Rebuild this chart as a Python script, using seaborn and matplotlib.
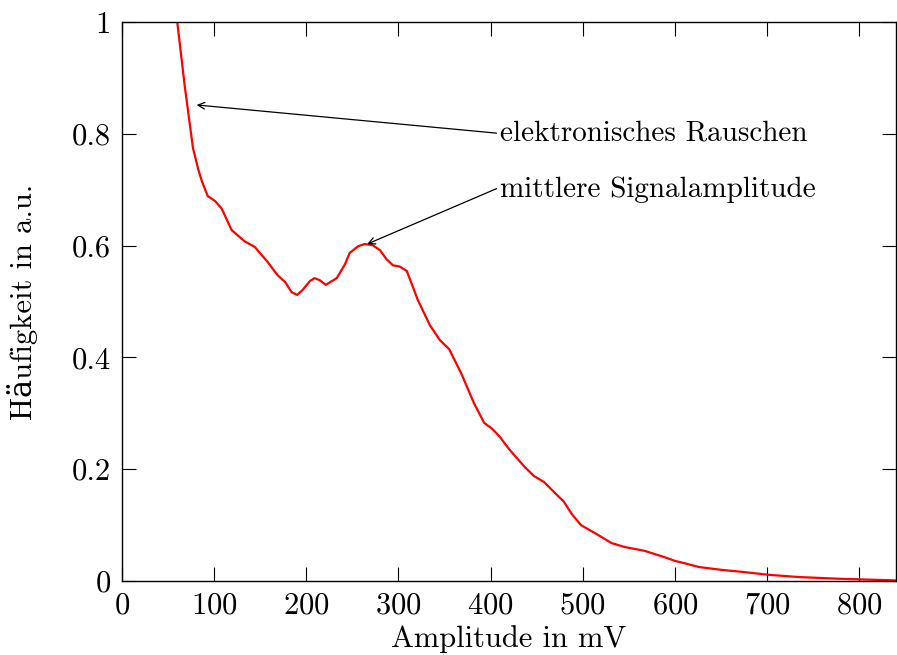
import numpy as np
import pandas as pd
import matplotlib
matplotlib.use("Agg")
import matplotlib.pyplot as plt
import seaborn as sns

# Amplitude spectrum
amplitude = [55, 60, 68, 77, 83, 87, 93, 101, 108, 119, 133, 144, 158, 169, 177, 184,
             190, 196, 204, 209, 215, 221, 233, 242, 247, 256, 263, 272, 280, 287,
             294, 301, 309, 321, 334, 345, 355, 368, 382, 393, 402, 410, 420, 437,
             447, 458, 472, 479, 488, 498, 515, 531, 545, 567, 588, 600, 610, 626,
             650, 675, 702, 735, 778, 840]
haeufigkeit = [1.05, 1.0, 0.887, 0.775, 0.735, 0.714, 0.689, 0.680, 0.667, 0.628, 0.608,
               0.598, 0.571, 0.547, 0.535, 0.517, 0.512, 0.521, 0.537, 0.542, 0.538,
               0.530, 0.542, 0.567, 0.587, 0.599, 0.603, 0.601, 0.592, 0.576, 0.565,
               0.563, 0.555, 0.503, 0.458, 0.431, 0.415, 0.372, 0.318, 0.283, 0.272,
               0.258, 0.236, 0.204, 0.188, 0.177, 0.154, 0.143, 0.120, 0.100, 0.084,
               0.068, 0.061, 0.054, 0.043, 0.036, 0.032, 0.025, 0.020, 0.016, 0.011,
               0.007, 0.004, 0.001]

df = pd.DataFrame({"Amplitude": amplitude, "Haeufigkeit": haeufigkeit})

sns.set_style("ticks")
plt.rcParams["font.family"] = ["cmr10", "DejaVu Serif"]
plt.rcParams["axes.formatter.use_mathtext"] = True
plt.rcParams["text.color"] = "black"
plt.rcParams["axes.labelcolor"] = "black"

fig = plt.figure(figsize=(8.97, 6.55), dpi=100)
ax = fig.add_axes([0.136, 0.113, 0.863, 0.853])

sns.lineplot(data=df, x="Amplitude", y="Haeufigkeit", color="red", lw=1.6, ax=ax)

ax.set_xlim(0, 840)
ax.set_ylim(0, 1)
ax.set_xticks(range(0, 900, 100))
ax.set_yticks([0, 0.2, 0.4, 0.6, 0.8, 1])
ax.yaxis.set_major_formatter(plt.FuncFormatter(lambda v, p: "%g" % v))

for s in ax.spines.values():
    s.set_visible(True)
    s.set_linewidth(1.0)
    s.set_color("black")
ax.tick_params(direction="in", length=10, width=0.8, top=True, right=True,
               labelsize=22, pad=8, colors="black")

ax.set_xlabel("Amplitude in mV", fontsize=22, labelpad=4)
ax.set_ylabel("Häufigkeit in a.u.", fontsize=22, labelpad=24)

arrow = dict(arrowstyle="->", color="black", lw=0.9, mutation_scale=12, shrinkA=0, shrinkB=0)
ax.annotate("elektronisches Rauschen", xy=(81, 0.852), xytext=(410, 0.801),
            fontsize=21, va="center", ha="left",
            arrowprops=dict(arrow, relpos=(0, 0.5)))
ax.annotate("mittlere Signalamplitude", xy=(266, 0.603), xytext=(410, 0.70),
            fontsize=21, va="center", ha="left",
            arrowprops=dict(arrow, relpos=(0, 0.6)))

fig.savefig("out.png", dpi=100)
